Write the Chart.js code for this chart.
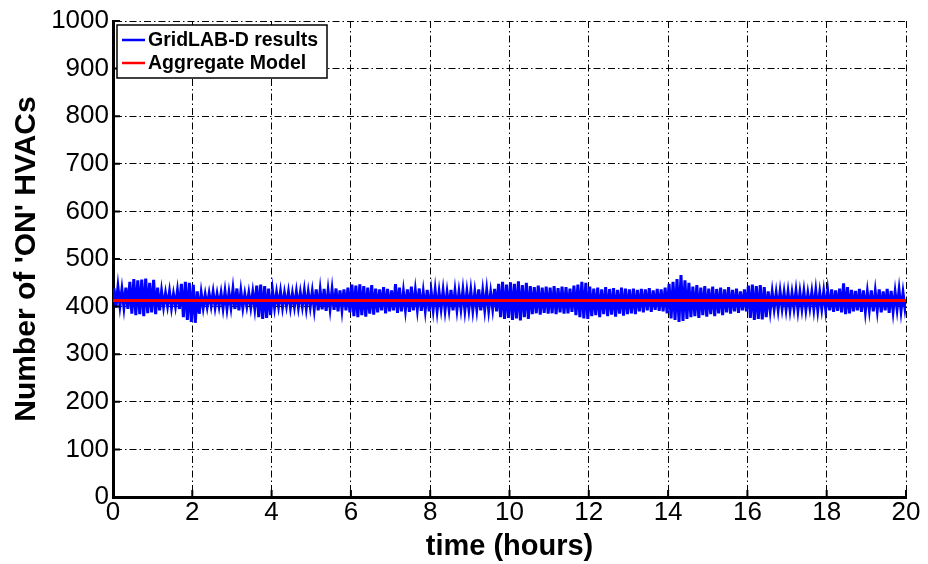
<!DOCTYPE html>
<html>
<head>
<meta charset="utf-8">
<script src="https://cdn.jsdelivr.net/npm/chart.js@4.4.1/dist/chart.umd.min.js"></script>
<style>
  html, body { margin: 0; padding: 0; background: #fff; }
  #wrap { width: 928px; height: 564px; }
</style>
</head>
<body>
<div id="wrap"><canvas id="hvacChart"></canvas></div>
<script>
// --- Data ---
// one oscillation every 0.1 h : local maximum then local minimum
const gridPeaks = [
  438,441,436,440,452,458,455,457,459,450,
  456,440,432,428,431,426,433,448,452,450,
  446,432,428,425,427,430,426,428,431,429,
  436,438,432,426,428,430,444,446,443,438,
  432,429,431,428,430,427,431,429,433,430,
  431,436,434,437,433,435,438,434,436,440,
  446,444,447,443,440,445,438,436,441,437,
  434,447,440,431,436,442,433,438,430,435,
  431,434,430,433,429,435,432,430,434,431,
  433,430,436,432,434,429,437,448,452,446,
  451,448,453,445,450,443,441,444,440,442,
  440,443,439,442,441,438,444,446,452,450,
  442,438,440,436,441,437,439,435,440,438,
  436,438,435,437,436,439,434,437,436,440,
  448,452,458,466,455,450,442,445,440,443,
  438,442,437,440,436,441,435,438,432,436,
  444,446,443,445,441,432,430,428,431,429,
  430,428,432,429,431,427,430,433,429,431,
  432,436,434,438,449,441,435,433,437,434,
  430,434,431,436,432,437,433,430,434,429
];
const gridTroughs = [
  398,402,399,395,385,382,384,380,386,388,
  384,392,400,402,398,401,395,378,372,368,
  366,385,398,400,402,399,401,397,396,399,
  395,392,398,401,399,397,378,374,376,382,
  398,401,399,402,398,400,399,401,397,400,
  395,392,394,391,396,393,390,394,392,388,
  380,378,382,379,385,383,388,392,386,390,
  392,387,390,394,389,392,395,391,393,390,
  394,392,396,393,395,392,394,396,393,395,
  393,395,392,394,393,396,390,378,374,376,
  372,375,371,378,374,384,386,383,387,385,
  386,384,388,385,386,389,382,378,375,374,
  380,382,378,384,380,383,379,385,381,384,
  386,384,390,388,392,389,393,391,390,386,
  375,372,368,370,374,378,380,376,382,379,
  384,380,386,382,388,385,390,387,392,390,
  376,372,374,373,378,392,396,394,397,395,
  394,397,393,396,394,398,395,393,396,394,
  392,389,391,388,384,386,390,392,389,391,
  394,390,393,388,392,387,391,395,392,396
];
const startValue = 420;
const endValue = 410;
const aggregateValue = 413;
const timeStep = 0.1;        // hours per oscillation
const xMax = 20, xStep = 2;
const yMax = 1000, yStep = 100;

const seriesNames = ['GridLAB-D results', 'Aggregate Model'];
const seriesColors = ['#0000ff', '#ff0000'];

// build point lists for the linear x axis
let gridPts = [{ x: 0, y: startValue }];
gridPeaks.forEach((p, i) => {
    gridPts.push({ x: i * timeStep + timeStep / 4, y: p });
    gridPts.push({ x: i * timeStep + timeStep * 3 / 4, y: gridTroughs[i] });
});
gridPts.push({ x: xMax, y: endValue });
const aggPts = [{ x: 0, y: aggregateValue }, { x: xMax, y: aggregateValue }];

// --- Plugins ---
const FONT = '"Liberation Sans", Arial, Helvetica, sans-serif';

// inward tick marks like the original figure
const innerTicks = {
    id: 'innerTicks',
    afterDatasetsDraw(chart) {
        const { ctx, chartArea: a, scales: { x, y } } = chart;
        ctx.save();
        ctx.strokeStyle = '#000'; ctx.lineWidth = 2;
        ctx.beginPath();
        x.ticks.forEach(t => { const px = x.getPixelForValue(t.value); ctx.moveTo(px, a.bottom); ctx.lineTo(px, a.bottom - 7); });
        y.ticks.forEach(t => { const py = y.getPixelForValue(t.value); ctx.moveTo(a.left, py); ctx.lineTo(a.left + 7, py); });
        ctx.stroke();
        ctx.restore();
    }
};

// boxed legend in upper-left corner
const boxLegend = {
    id: 'boxLegend',
    afterDraw(chart) {
        const { ctx, chartArea: a } = chart;
        const bx = a.left + 4, by = a.top + 4, bw = 210, bh = 53;
        ctx.save();
        ctx.fillStyle = '#fff'; ctx.fillRect(bx, by, bw, bh);
        ctx.strokeStyle = '#000'; ctx.lineWidth = 1.5; ctx.strokeRect(bx, by, bw, bh);
        ctx.font = 'bold 19.5px ' + FONT;
        ctx.textBaseline = 'middle';
        chart.data.datasets.forEach((ds, i) => {
            const ly = by + 15 + i * 23;
            ctx.strokeStyle = ds.borderColor; ctx.lineWidth = 2.5;
            ctx.beginPath(); ctx.moveTo(bx + 5, ly); ctx.lineTo(bx + 28, ly); ctx.stroke();
            ctx.fillStyle = '#000';
            ctx.fillText(ds.label, bx + 31, ly + 1);
        });
        ctx.restore();
    }
};

// --- Chart ---
const gridDash = { color: '#000', lineWidth: 1 };
new Chart(document.getElementById('hvacChart'), {
    type: 'line',
    data: {
        datasets: [
            { label: seriesNames[0], data: gridPts, borderColor: seriesColors[0], borderWidth: 3, pointRadius: 0, tension: 0, order: 1 },
            { label: seriesNames[1], data: aggPts, borderColor: seriesColors[1], borderWidth: 3, pointRadius: 0, tension: 0, order: 0 }
        ]
    },
    options: {
        responsive: true, maintainAspectRatio: false, animation: false,
        layout: { padding: { top: 21, right: 22, left: 0, bottom: 0 } },
        plugins: { legend: { display: false }, tooltip: { enabled: false } },
        scales: {
            x: {
                type: 'linear', min: 0, max: xMax,
                ticks: { stepSize: xStep, color: '#000', font: { family: FONT, size: 26 }, padding: 0, maxRotation: 0, callback: v => String(v) },
                grid: { ...gridDash, drawTicks: false },
                border: { color: '#000', width: 3, dash: [7, 3, 1.5, 3] },
                title: { display: true, text: 'time (hours)', color: '#000', font: { family: FONT, size: 29, weight: 'bold' }, padding: { top: -6, bottom: 0 } },
                afterFit(s) { s.height = 67; }
            },
            y: {
                min: 0, max: yMax,
                ticks: { stepSize: yStep, color: '#000', font: { family: FONT, size: 26 }, padding: 4, callback: v => String(v) },
                grid: { ...gridDash, drawTicks: false },
                border: { color: '#000', width: 3, dash: [7, 3, 1.5, 3] },
                title: { display: true, text: "Number of 'ON' HVACs", color: '#000', font: { family: FONT, size: 30, weight: 'bold' }, padding: { top: 9, bottom: 0 } },
                afterFit(s) { s.width = 113; }
            }
        }
    },
    plugins: [innerTicks, boxLegend]
});
</script>
</body>
</html>
